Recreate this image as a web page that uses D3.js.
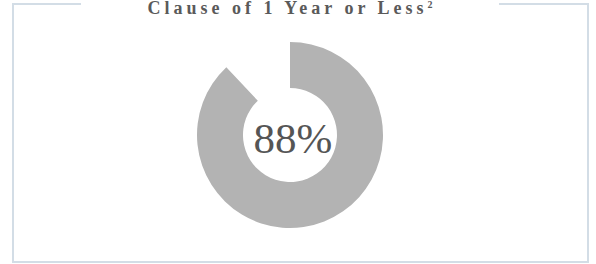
<!DOCTYPE html>
<html>
<head>
<meta charset="utf-8">
<script src="https://cdn.jsdelivr.net/npm/d3@7"></script>
<style>
  body { margin: 0; background: #fff; }
</style>
</head>
<body>
<div id="canvas"></div>
<script>
"use strict";

/* Data */
let titleText = "Clause of 1 Year or Less";
let footnote = "2";
let categories = ["Yes", "Other"];
let values = [88, 12];
let sliceColors = ["#b3b3b3", "none"];

/* Drawing config */
let svgWidth = 596;
let svgHeight = 264;
let cx = 290;
let cy = 135;
let outerR = 93;
let innerR = 47;

let svg = d3.select("#canvas")
  .append("svg")
  .attr("width", svgWidth)
  .attr("height", svgHeight);

/* Frame: top line broken for the title */
let frameColor = "#d3dde6";
let frame = svg.append("g")
  .attr("fill", "none")
  .attr("stroke", frameColor)
  .attr("stroke-width", 2);

frame.append("path")
  .attr("d", "M81,4 H13 V262 H588 V4 H499");

/* Title */
svg.append("text")
  .attr("x", cx + 2)
  .attr("y", 14)
  .attr("text-anchor", "middle")
  .attr("font-family", "'Liberation Serif', 'Times New Roman', serif")
  .attr("font-weight", "bold")
  .attr("font-size", 18)
  .attr("letter-spacing", 4)
  .attr("fill", "#5a5a5a")
  .text(titleText)
  .append("tspan")
  .attr("font-size", 10)
  .attr("dy", -6)
  .text(footnote);

/* Donut */
let pie = d3.pie().sort(null).value(d => d);
let arc = d3.arc().innerRadius(innerR).outerRadius(outerR);

svg.append("g")
  .attr("transform", `translate(${cx},${cy})`)
  .selectAll("path")
  .data(pie(values))
  .join("path")
  .attr("d", arc)
  .attr("fill", (d, i) => sliceColors[i]);

/* Center label */
svg.append("text")
  .attr("x", cx + 3)
  .attr("y", cy + 18)
  .attr("text-anchor", "middle")
  .attr("font-family", "'Liberation Serif', 'Times New Roman', serif")
  .attr("font-size", 43)
  .attr("fill", "#555")
  .text(values[0] + "%");
</script>
</body>
</html>
